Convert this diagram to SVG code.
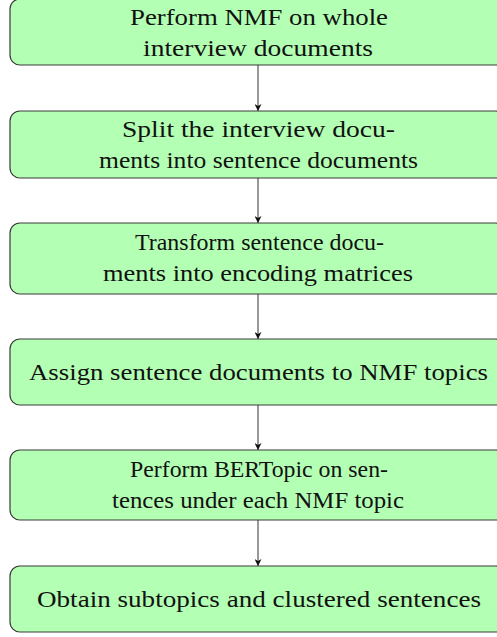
<svg xmlns="http://www.w3.org/2000/svg" width="497" height="637" viewBox="0 0 497 637">
<style>
.box{fill:#b3ffb3;stroke:#3a3a3a;stroke-width:1.2}
.t{font-family:'Liberation Serif','Times New Roman','DejaVu Serif','Noto Serif',serif;font-size:23px;fill:#111;text-anchor:middle}
.c{stroke:#333;stroke-width:1;fill:none}
</style>
<defs>
<marker id="ah" viewBox="0 0 10 10" refX="10" refY="5" markerWidth="7" markerHeight="7" markerUnits="userSpaceOnUse" orient="auto">
<path d="M0,0 L10,5 L0,10 L3,5 Z" fill="#111"/>
</marker>
</defs>
<g id="connectors">
<line class="c" x1="258" y1="65" x2="258" y2="111" marker-end="url(#ah)"/>
<line class="c" x1="258" y1="178" x2="258" y2="223" marker-end="url(#ah)"/>
<line class="c" x1="258" y1="294" x2="258" y2="339" marker-end="url(#ah)"/>
<line class="c" x1="258" y1="405" x2="258" y2="450" marker-end="url(#ah)"/>
<line class="c" x1="258" y1="520" x2="258" y2="566" marker-end="url(#ah)"/>
</g>
<g id="n1">
<rect class="box" x="10" y="-1" width="496" height="66" rx="10"/>
<text class="t" x="259" y="24.5" textLength="258" lengthAdjust="spacingAndGlyphs">Perform NMF on whole</text>
<text class="t" x="258" y="55.5" textLength="230" lengthAdjust="spacingAndGlyphs">interview documents</text>
</g>
<g id="n2">
<rect class="box" x="10" y="111" width="496" height="67" rx="10"/>
<text class="t" x="258.5" y="137" textLength="273" lengthAdjust="spacingAndGlyphs">Split the interview docu-</text>
<text class="t" x="258.5" y="168" textLength="319" lengthAdjust="spacingAndGlyphs">ments into sentence documents</text>
</g>
<g id="n3">
<rect class="box" x="10" y="223" width="496" height="71" rx="10"/>
<text class="t" x="259.5" y="250" textLength="249" lengthAdjust="spacingAndGlyphs">Transform sentence docu-</text>
<text class="t" x="258" y="281" textLength="310" lengthAdjust="spacingAndGlyphs">ments into encoding matrices</text>
</g>
<g id="n4">
<rect class="box" x="10" y="339" width="496" height="66" rx="10"/>
<text class="t" x="258.5" y="380" textLength="459" lengthAdjust="spacingAndGlyphs">Assign sentence documents to NMF topics</text>
</g>
<g id="n5">
<rect class="box" x="10" y="450" width="496" height="70" rx="10"/>
<text class="t" x="259" y="477" textLength="258" lengthAdjust="spacingAndGlyphs">Perform BERTopic on sen-</text>
<text class="t" x="258" y="508" textLength="292" lengthAdjust="spacingAndGlyphs">tences under each NMF topic</text>
</g>
<g id="n6">
<rect class="box" x="10" y="566" width="496" height="66" rx="10"/>
<text class="t" x="259" y="607" textLength="444" lengthAdjust="spacingAndGlyphs">Obtain subtopics and clustered sentences</text>
</g>
</svg>
